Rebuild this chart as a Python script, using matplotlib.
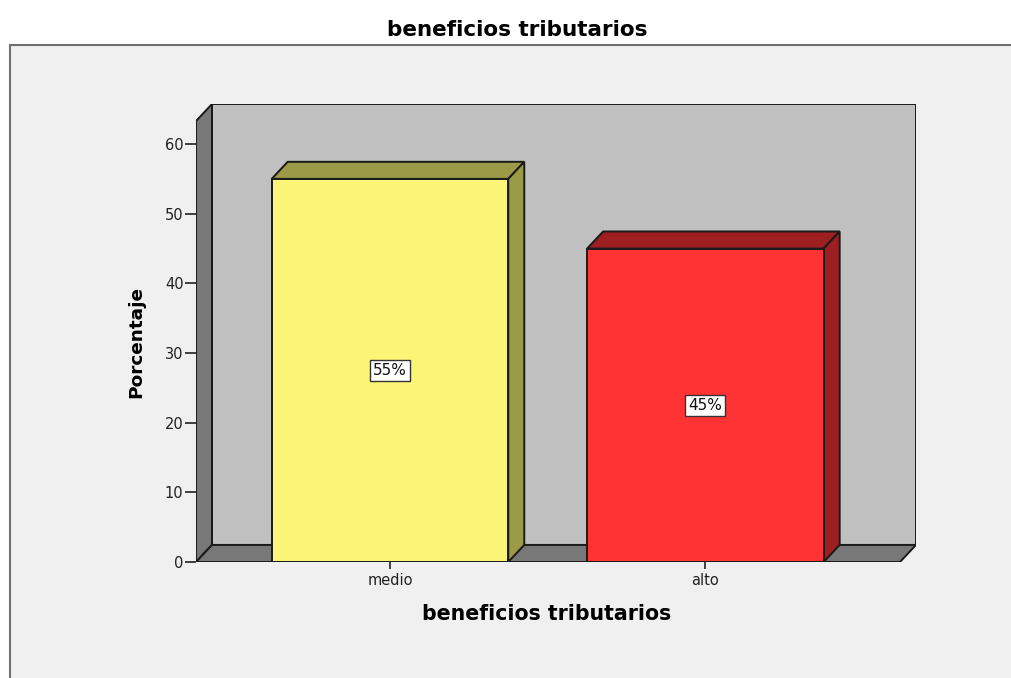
import matplotlib
matplotlib.use('Agg')
import matplotlib.pyplot as plt
from matplotlib.patches import Polygon, Rectangle

# datos
categorias = ['medio', 'alto']
porcentajes = [55, 45]
etiquetas = ['55%', '45%']
color_frente = ['#faf576', '#ff3333']
color_lado = ['#9b9a46', '#9e1f22']

titulo = 'beneficios tributarios'
ylabel = 'Porcentaje'
yticks = [0, 10, 20, 30, 40, 50, 60]

# geometria del "3D"
ancho = 0.75
dx = 0.0507      # profundidad en x (unidades de categoria)
dy = 2.45        # profundidad en y (unidades de valor)
x0, x1 = -0.615, 1.617
ytop = 63.3

fig = plt.figure(figsize=(10.11, 6.78), dpi=100)
fig.patch.set_facecolor('white')

# marco gris de fondo
marco = Rectangle((10 / 1011, -0.05), 1.1, 1 - 45 / 678 + 0.05, transform=fig.transFigure,
                  facecolor='#f0f0f0', edgecolor='#707070', linewidth=1.5, zorder=-10)
fig.patches.append(marco)

ax = fig.add_axes([196 / 1011, 1 - 562 / 678, (916 - 196) / 1011, (562 - 104) / 678])
ax.set_facecolor('none')
ax.set_xlim(x0, x1 + dx)
ax.set_ylim(0, ytop + dy)
for s in ax.spines.values():
    s.set_visible(False)

lw = 1.4
# pared del fondo
ax.add_patch(Rectangle((x0 + dx, dy), x1 - x0, ytop, facecolor='#c0c0c0', edgecolor='#1a1a1a', lw=lw, zorder=1))
# pared lateral
ax.add_patch(Polygon([(x0, 0), (x0, ytop), (x0 + dx, ytop + dy), (x0 + dx, dy)],
                     closed=True, facecolor='#787878', edgecolor='#1a1a1a', lw=lw, zorder=2))
# piso
ax.add_patch(Polygon([(x0, 0), (x1, 0), (x1 + dx, dy), (x0 + dx, dy)],
                     closed=True, facecolor='#787878', edgecolor='#1a1a1a', lw=lw, zorder=2))

for i, v in enumerate(porcentajes):
    a = i - ancho / 2
    b = i + ancho / 2
    ax.add_patch(Rectangle((a, 0), ancho, v, facecolor=color_frente[i], edgecolor='#1a1a1a', lw=lw, zorder=4))
    ax.add_patch(Polygon([(a, v), (b, v), (b + dx, v + dy), (a + dx, v + dy)],
                         closed=True, facecolor=color_lado[i], edgecolor='#1a1a1a', lw=lw, zorder=3))
    ax.add_patch(Polygon([(b, 0), (b, v), (b + dx, v + dy), (b + dx, dy)],
                         closed=True, facecolor=color_lado[i], edgecolor='#1a1a1a', lw=lw, zorder=3))
    ax.text(i, v / 2, etiquetas[i], ha='center', va='center', fontsize=11, family='DejaVu Sans',
            color='#111111', zorder=5,
            bbox=dict(boxstyle='square,pad=0.2', facecolor='white', edgecolor='#333333', lw=1))

ax.set_yticks(yticks)
ax.set_yticklabels([str(t) for t in yticks], fontsize=10.5, family='DejaVu Sans', color='#222222')
ax.set_xticks(range(len(categorias)))
ax.set_xticklabels(categorias, fontsize=10.5, family='DejaVu Sans', color='#222222')
ax.tick_params(axis='y', length=8, width=1.2, pad=1, color='#222222')
ax.tick_params(axis='x', length=5, width=1.2, pad=3, color='#222222')

ax.set_ylabel(ylabel, fontsize=13.3, fontweight='bold', family='DejaVu Sans', va='center')
ax.yaxis.set_label_coords((136 - 196) / 720, (562 - 342) / 458)
ax.set_xlabel(titulo, fontsize=14.8, fontweight='bold', family='DejaVu Sans', va='baseline')
ax.xaxis.set_label_coords((547 - 196) / 720, -(620 - 562) / 458)
fig.text(517 / 1011, 1 - 36 / 678, titulo, ha='center', va='baseline', fontsize=15.5,
         fontweight='bold', family='DejaVu Sans')

fig.savefig('out.png', dpi=100)
